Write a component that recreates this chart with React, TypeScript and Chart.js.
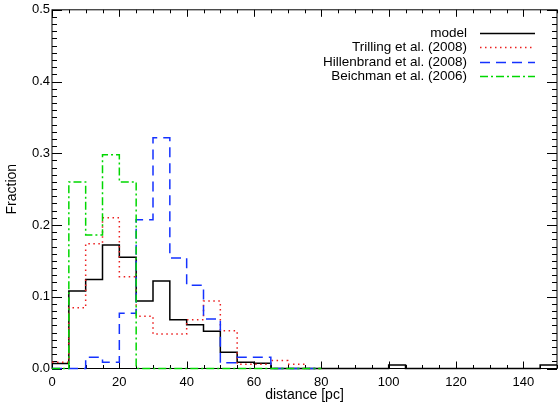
import React, { useEffect, useRef } from 'react';
import { Chart, registerables } from 'chart.js';

Chart.register(...registerables);

// Histogram bins: 5 pc wide, starting at 0 pc
const binWidth = 5;

const modelValues = [
  0.007, 0.108, 0.124, 0.172, 0.155, 0.094, 0.122, 0.068, 0.061, 0.052,
  0.0225, 0.0086, 0.0072, 0, 0, 0, 0, 0, 0, 0,
  0.005, 0, 0, 0, 0, 0, 0, 0, 0, 0.005,
];
const trillingValues = [
  0.0086, 0.0846, 0.174, 0.21, 0.128, 0.073, 0.048, 0.048, 0.068, 0.094,
  0.0526, 0.006, 0.006, 0.011, 0.006, 0,
];
const hillenbrandValues = [
  0, 0, 0.0156, 0.0086, 0.077, 0.2075, 0.3216, 0.154, 0.116, 0.069,
  0.008, 0.0156, 0.0156, 0, 0, 0,
];
const beichmanValues = [
  0, 0.26, 0.186, 0.298, 0.26, 0, 0, 0, 0, 0,
  0, 0, 0, 0, 0, 0,
];

const seriesNames = ['model', 'Trilling et al. (2008)', 'Hillenbrand et al. (2008)', 'Beichman et al. (2006)'];
const seriesColors = ['#000000', 'rgb(235,30,30)', 'rgb(20,50,255)', 'rgb(0,215,0)'];
const seriesDashes: number[][] = [[], [1.5, 3.5], [10, 6], [8, 3, 2, 3]];

const xTitle = 'distance [pc]';
const yTitle = 'Fraction';
const xMin = 0, xMax = 150, xMajor = 20, xMinor = 5;
const yMin = 0, yMax = 0.5, yMajor = 0.1, yMinor = 0.01;

const FONT = "'Liberation Sans', Arial, sans-serif";

function histPoints(values: number[]) {
  const pts = values.map((v, i) => ({ x: i * binWidth, y: v }));
  pts.push({ x: values.length * binWidth, y: values[values.length - 1] });
  return pts;
}

const framePlugin = {
  id: 'frameTicks',
  beforeDatasetsDraw(chart: any) {
    const { ctx, chartArea: a, scales } = chart;
    const x = scales.x, y = scales.y;
    ctx.save();
    ctx.strokeStyle = '#000';
    ctx.lineWidth = 1;
    ctx.strokeRect(a.left, a.top, a.right - a.left, a.bottom - a.top);
    ctx.beginPath();
    const nx = Math.round((xMax - xMin) / xMinor);
    for (let k = 0; k <= nx; k++) {
      const v = xMin + k * xMinor;
      const px = Math.round(x.getPixelForValue(v)) + 0.5;
      const len = Math.abs(v % xMajor) < 1e-9 ? 7 : 3.5;
      ctx.moveTo(px, a.bottom); ctx.lineTo(px, a.bottom - len);
      ctx.moveTo(px, a.top); ctx.lineTo(px, a.top + len);
    }
    const ny = Math.round((yMax - yMin) / yMinor);
    const perMajor = Math.round(yMajor / yMinor);
    for (let k = 0; k <= ny; k++) {
      const v = yMin + k * yMinor;
      const py = Math.round(y.getPixelForValue(v)) + 0.5;
      const len = k % perMajor === 0 ? 10 : 5;
      ctx.moveTo(a.left, py); ctx.lineTo(a.left + len, py);
      ctx.moveTo(a.right, py); ctx.lineTo(a.right - len, py);
    }
    ctx.stroke();
    ctx.restore();
  },
};

const legendPlugin = {
  id: 'idlLegend',
  afterDatasetsDraw(chart: any) {
    const { ctx } = chart;
    ctx.save();
    ctx.font = `13.5px ${FONT}`;
    ctx.textAlign = 'right';
    ctx.textBaseline = 'middle';
    const textRight = 467, lineL = 480, lineR = 535, y0 = 33, dy = 14.4;
    seriesNames.forEach((name, i) => {
      const yy = y0 + i * dy;
      ctx.fillStyle = '#000';
      ctx.fillText(name, textRight, yy);
      ctx.strokeStyle = seriesColors[i];
      ctx.lineWidth = 1.5;
      ctx.setLineDash(seriesDashes[i]);
      ctx.beginPath();
      ctx.moveTo(lineL, Math.round(yy) + 0.5);
      ctx.lineTo(lineR, Math.round(yy) + 0.5);
      ctx.stroke();
    });
    ctx.restore();
  },
};

export default function App() {
  const ref = useRef<HTMLCanvasElement | null>(null);
  useEffect(() => {
    if (!ref.current) return;
    const allValues = [modelValues, trillingValues, hillenbrandValues, beichmanValues];
    const orders = [3, 2, 1, 0];
    const chart = new Chart(ref.current, {
      type: 'line',
      data: {
        datasets: allValues.map((vals, i) => ({
          label: seriesNames[i],
          data: histPoints(vals),
          borderColor: seriesColors[i],
          borderWidth: 1.5,
          borderDash: seriesDashes[i],
          pointRadius: 0,
          fill: false,
          stepped: 'before' as const,
          tension: 0,
          clip: false as any,
          order: orders[i],
        })),
      },
      options: {
        animation: false,
        responsive: false,
        devicePixelRatio: 1,
        layout: { padding: { top: 9, right: 3, left: 0, bottom: 0 } },
        plugins: { legend: { display: false }, tooltip: { enabled: false } },
        scales: {
          x: {
            type: 'linear',
            min: xMin,
            max: xMax,
            grid: { display: false, drawTicks: false },
            border: { display: false },
            ticks: {
              stepSize: xMajor,
              includeBounds: false,
              padding: 6,
              maxRotation: 0,
              color: '#000',
              font: { family: FONT, size: 13 },
            },
            title: {
              display: true,
              text: xTitle,
              color: '#000',
              font: { family: FONT, size: 14 },
              padding: { top: 0, bottom: 2 },
            },
            afterFit: (s: any) => { s.height = 37.5; },
          },
          y: {
            type: 'linear',
            min: yMin,
            max: yMax,
            grid: { display: false, drawTicks: false },
            border: { display: false },
            ticks: {
              stepSize: yMajor,
              padding: 2,
              color: '#000',
              font: { family: FONT, size: 13 },
              callback: (v: any) => Number(v).toFixed(1),
            },
            title: {
              display: true,
              text: yTitle,
              color: '#000',
              font: { family: FONT, size: 14 },
              padding: { top: 4, bottom: 0 },
            },
            afterFit: (s: any) => { s.width = 52; },
          },
        },
      },
      plugins: [framePlugin, legendPlugin],
    });
    return () => chart.destroy();
  }, []);
  return (
    <div style={{ position: 'absolute', left: 0, top: 0, width: 560, height: 406, background: '#fff' }}>
      <canvas ref={ref} width={560} height={406} style={{ display: 'block' }} />
    </div>
  );
}
